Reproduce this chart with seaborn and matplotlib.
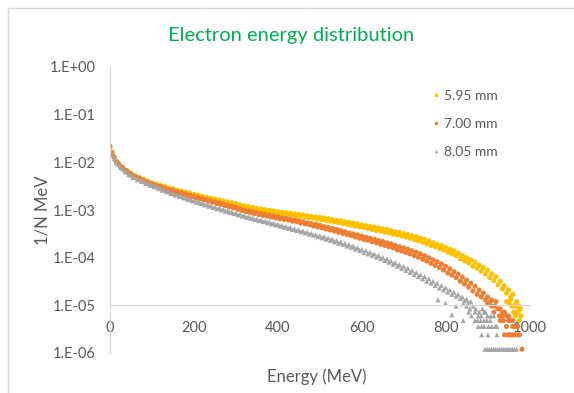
import numpy as np
import pandas as pd
import matplotlib
matplotlib.use("Agg")
import matplotlib.pyplot as plt
import seaborn as sns
from matplotlib.ticker import FixedLocator, FuncFormatter, NullLocator
from matplotlib.patches import Rectangle

# ---------------- data ----------------
series_names = ["5.95 mm", "7.00 mm", "8.05 mm"]
series_colors = ["#FFC000", "#ED7D31", "#A5A5A5"]

energy_grid = [
    0, 5, 10, 15, 20, 25, 30, 35, 40, 45, 50, 55, 60, 65, 70, 75, 80, 85, 90, 95,
    100, 105, 110, 115, 120, 125, 130, 135, 140, 145, 150, 155, 160, 165, 170, 175, 180, 185, 190, 195,
    200, 205, 210, 215, 220, 225, 230, 235, 240, 245, 250, 255, 260, 265, 270, 275, 280, 285, 290, 295,
    300, 305, 310, 315, 320, 325, 330, 335, 340, 345, 350, 355, 360, 365, 370, 375, 380, 385, 390, 395,
    400, 405, 410, 415, 420, 425, 430, 435, 440, 445, 450, 455, 460, 465, 470, 475, 480, 485, 490, 495,
    500, 505, 510, 515, 520, 525, 530, 535, 540, 545, 550, 555, 560, 565, 570, 575, 580, 585, 590, 595,
    600, 605, 610, 615, 620, 625, 630, 635, 640, 645, 650, 655, 660, 665, 670, 675, 680, 685, 690, 695,
    700, 705, 710, 715, 720, 725, 730, 735, 740, 745, 750, 755, 760, 765, 770, 775, 780, 785, 790, 795,
    800, 805, 810, 815, 820, 825, 830, 835, 840, 845, 850, 855, 860, 865, 870, 875, 880, 885, 890, 895,
    900, 905, 910, 915, 920, 925, 930, 935, 940, 945, 950, 955, 960,
]

yellow_values = [
    2.1e-2, 1.65e-2, 1.3e-2, 1.05e-2, 9.6e-3, 8.3e-3, 7.9e-3, 7.0e-3, 6.8e-3, 6.0e-3, 5.9e-3, 5.3e-3, 5.2e-3, 4.8e-3, 4.8e-3, 4.3e-3, 4.4e-3, 4.0e-3, 4.0e-3, 3.65e-3,
    3.7e-3, 3.45e-3, 3.5e-3, 3.2e-3, 3.3e-3, 3.0e-3, 3.1e-3, 2.85e-3, 2.9e-3, 2.7e-3, 2.8e-3, 2.55e-3, 2.6e-3, 2.4e-3, 2.5e-3, 2.3e-3, 2.38e-3, 2.2e-3, 2.28e-3, 2.05e-3,
    2.12e-3, 1.95e-3, 2.05e-3, 1.85e-3, 1.95e-3, 1.78e-3, 1.85e-3, 1.7e-3, 1.78e-3, 1.62e-3, 1.7e-3, 1.55e-3, 1.63e-3, 1.48e-3, 1.56e-3, 1.42e-3, 1.48e-3, 1.36e-3, 1.43e-3, 1.3e-3,
    1.36e-3, 1.24e-3, 1.28e-3, 1.17e-3, 1.23e-3, 1.12e-3, 1.18e-3, 1.08e-3, 1.13e-3, 1.03e-3, 1.08e-3, 9.9e-4, 1.05e-3, 9.6e-4, 1.02e-3, 9.3e-4, 9.9e-4, 9.0e-4, 9.6e-4, 8.7e-4,
    9.3e-4, 8.5e-4, 9.0e-4, 8.2e-4, 8.8e-4, 8.0e-4, 8.5e-4, 7.8e-4, 8.3e-4, 7.5e-4, 8.1e-4, 7.3e-4, 7.9e-4, 7.1e-4, 7.6e-4, 6.9e-4, 7.4e-4, 6.7e-4, 7.2e-4, 6.4e-4,
    7.0e-4, 6.3e-4, 6.8e-4, 6.0e-4, 6.6e-4, 5.8e-4, 6.3e-4, 5.6e-4, 6.1e-4, 5.4e-4, 5.9e-4, 5.2e-4, 5.7e-4, 5.0e-4, 5.5e-4, 4.8e-4, 5.3e-4, 4.6e-4, 5.1e-4, 4.4e-4,
    4.9e-4, 4.3e-4, 4.7e-4, 4.1e-4, 4.5e-4, 3.9e-4, 4.4e-4, 3.7e-4, 4.2e-4, 3.6e-4, 4.0e-4, 3.4e-4, 3.9e-4, 3.3e-4, 3.7e-4, 3.1e-4, 3.5e-4, 3.0e-4, 3.4e-4, 2.85e-4,
    3.2e-4, 2.7e-4, 3.05e-4, 2.55e-4, 2.9e-4, 2.4e-4, 2.75e-4, 2.25e-4, 2.55e-4, 2.1e-4, 2.4e-4, 1.95e-4, 2.25e-4, 1.8e-4, 2.05e-4, 1.7e-4, 1.9e-4, 1.55e-4, 1.8e-4, 1.45e-4,
    1.65e-4, 1.3e-4, 1.5e-4, 1.2e-4, 1.4e-4, 1.1e-4, 1.25e-4, 9.5e-5, 1.1e-4, 8.5e-5, 1.0e-4, 7.8e-5, 9.0e-5, 6.6e-5, 8.0e-5, 6.0e-5, 7.0e-5, 5.2e-5, 6.2e-5, 4.5e-5,
    5.5e-5, 3.8e-5, 4.6e-5, 3.3e-5, 4.0e-5, 2.7e-5, 3.2e-5, 2.2e-5, 2.6e-5, 1.8e-5, 2.1e-5, 1.5e-5, 1.7e-5,
]

orange_values = [
    2.2e-2, 1.55e-2, 1.28e-2, 1.02e-2, 9.4e-3, 8.1e-3, 7.7e-3, 6.8e-3, 6.6e-3, 5.8e-3, 5.7e-3, 5.1e-3, 5.0e-3, 4.6e-3, 4.6e-3, 4.2e-3, 4.2e-3, 3.85e-3, 3.85e-3, 3.5e-3,
    3.55e-3, 3.25e-3, 3.3e-3, 3.05e-3, 3.1e-3, 2.85e-3, 2.9e-3, 2.7e-3, 2.72e-3, 2.52e-3, 2.58e-3, 2.38e-3, 2.43e-3, 2.25e-3, 2.3e-3, 2.12e-3, 2.17e-3, 2.0e-3, 2.05e-3, 1.9e-3,
    1.95e-3, 1.8e-3, 1.85e-3, 1.7e-3, 1.75e-3, 1.62e-3, 1.66e-3, 1.53e-3, 1.58e-3, 1.45e-3, 1.5e-3, 1.37e-3, 1.42e-3, 1.3e-3, 1.35e-3, 1.23e-3, 1.27e-3, 1.16e-3, 1.2e-3, 1.1e-3,
    1.14e-3, 1.03e-3, 1.06e-3, 9.7e-4, 1.0e-3, 9.2e-4, 9.6e-4, 8.8e-4, 9.2e-4, 8.4e-4, 8.8e-4, 8.0e-4, 8.4e-4, 7.7e-4, 8.1e-4, 7.4e-4, 7.8e-4, 7.1e-4, 7.5e-4, 6.8e-4,
    7.2e-4, 6.5e-4, 6.9e-4, 6.3e-4, 6.7e-4, 6.1e-4, 6.4e-4, 5.8e-4, 6.2e-4, 5.6e-4, 5.9e-4, 5.3e-4, 5.7e-4, 5.1e-4, 5.4e-4, 4.9e-4, 5.2e-4, 4.6e-4, 5.0e-4, 4.4e-4,
    4.8e-4, 4.2e-4, 4.5e-4, 4.0e-4, 4.3e-4, 3.8e-4, 4.1e-4, 3.6e-4, 3.9e-4, 3.4e-4, 3.7e-4, 3.2e-4, 3.5e-4, 3.05e-4, 3.3e-4, 2.9e-4, 3.15e-4, 2.7e-4, 3.0e-4, 2.55e-4,
    2.85e-4, 2.4e-4, 2.7e-4, 2.3e-4, 2.55e-4, 2.15e-4, 2.45e-4, 2.05e-4, 2.3e-4, 1.9e-4, 2.2e-4, 1.8e-4, 2.05e-4, 1.7e-4, 1.95e-4, 1.6e-4, 1.8e-4, 1.45e-4, 1.7e-4, 1.38e-4,
    1.6e-4, 1.28e-4, 1.5e-4, 1.2e-4, 1.4e-4, 1.1e-4, 1.3e-4, 1.02e-4, 1.2e-4, 9.3e-5, 1.1e-4, 8.5e-5, 1.0e-4, 7.6e-5, 9.0e-5, 6.9e-5, 8.2e-5, 6.2e-5, 7.4e-5, 5.5e-5,
    6.6e-5, 4.8e-5, 5.8e-5, 4.3e-5, 5.1e-5, 3.8e-5, 4.5e-5, 3.2e-5, 3.9e-5, 2.8e-5, 3.4e-5, 2.4e-5, 2.9e-5, 2.0e-5, 2.5e-5, 1.7e-5, 2.1e-5, 1.5e-5, 1.8e-5, 1.3e-5,
    1.5e-5, 1.15e-5, 1.3e-5,
]

grey_values = [
    1.9e-2, 1.45e-2, 1.2e-2, 9.8e-3, 9.0e-3, 7.8e-3, 7.3e-3, 6.4e-3, 6.2e-3, 5.5e-3, 5.4e-3, 4.8e-3, 4.8e-3, 4.3e-3, 4.35e-3, 3.95e-3, 4.0e-3, 3.6e-3, 3.65e-3, 3.3e-3,
    3.35e-3, 3.05e-3, 3.1e-3, 2.8e-3, 2.85e-3, 2.6e-3, 2.62e-3, 2.4e-3, 2.45e-3, 2.22e-3, 2.27e-3, 2.07e-3, 2.1e-3, 1.93e-3, 1.96e-3, 1.8e-3, 1.82e-3, 1.67e-3, 1.7e-3, 1.56e-3,
    1.6e-3, 1.46e-3, 1.5e-3, 1.37e-3, 1.4e-3, 1.28e-3, 1.32e-3, 1.2e-3, 1.24e-3, 1.13e-3, 1.16e-3, 1.06e-3, 1.09e-3, 1.0e-3, 1.03e-3, 9.4e-4, 9.7e-4, 8.9e-4, 9.1e-4, 8.4e-4,
    8.6e-4, 7.9e-4, 8.1e-4, 7.4e-4, 7.7e-4, 7.0e-4, 7.3e-4, 6.7e-4, 6.9e-4, 6.3e-4, 6.5e-4, 6.0e-4, 6.2e-4, 5.7e-4, 5.9e-4, 5.4e-4, 5.6e-4, 5.1e-4, 5.3e-4, 4.85e-4,
    5.0e-4, 4.6e-4, 4.75e-4, 4.35e-4, 4.5e-4, 4.1e-4, 4.3e-4, 3.9e-4, 4.05e-4, 3.7e-4, 3.85e-4, 3.5e-4, 3.65e-4, 3.3e-4, 3.45e-4, 3.1e-4, 3.25e-4, 2.95e-4, 3.05e-4, 2.75e-4,
    2.9e-4, 2.6e-4, 2.75e-4, 2.45e-4, 2.6e-4, 2.3e-4, 2.45e-4, 2.15e-4, 2.3e-4, 2.0e-4, 2.15e-4, 1.9e-4, 2.0e-4, 1.75e-4, 1.88e-4, 1.65e-4, 1.75e-4, 1.52e-4, 1.62e-4, 1.42e-4,
    1.5e-4, 1.3e-4, 1.4e-4, 1.2e-4, 1.3e-4, 1.12e-4, 1.2e-4, 1.03e-4, 1.1e-4, 9.5e-5, 1.02e-4, 8.7e-5, 9.4e-5, 8.0e-5, 8.6e-5, 7.3e-5, 7.9e-5, 6.6e-5, 7.2e-5, 6.0e-5,
    6.6e-5, 5.4e-5, 6.0e-5, 4.9e-5, 5.4e-5, 4.4e-5, 4.9e-5, 4.0e-5, 4.4e-5, 3.6e-5, 4.0e-5, 3.2e-5, 3.6e-5, 2.9e-5, 3.2e-5, 2.6e-5, 2.9e-5, 2.3e-5, 2.6e-5, 2.1e-5,
    2.35e-5, 1.9e-5, 2.1e-5, 1.7e-5, 1.9e-5, 1.55e-5, 1.7e-5, 1.4e-5, 1.5e-5, 1.25e-5, 1.35e-5, 1.15e-5, 1.2e-5,
]

# low-count tail points (quantized levels)
yellow_tail_energy = [945, 952, 958, 963, 967, 971, 975, 978, 962, 968, 973, 980, 955, 970, 976, 966]
yellow_tail_value = [1.2e-5, 1.08e-5, 9.6e-6, 9.6e-6, 1.08e-5, 9.6e-6, 9.6e-6, 8.4e-6,
                     7.2e-6, 7.2e-6, 7.2e-6, 6.0e-6, 1.32e-5, 1.2e-5, 4.8e-6, 6.0e-6]

orange_tail_energy = [900, 910, 918, 925, 930, 935, 940, 945, 950, 955,
                      960, 965, 970, 975, 940, 948, 953, 957, 962, 968,
                      972, 976, 930, 945, 960, 982, 920, 935, 950, 915,
                      928, 938]
orange_tail_value = [1.08e-5, 9.6e-6, 9.6e-6, 8.4e-6, 8.4e-6, 7.2e-6, 7.2e-6, 6.0e-6, 6.0e-6, 4.8e-6,
                     4.8e-6, 3.6e-6, 3.6e-6, 2.4e-6, 2.4e-6, 2.4e-6, 2.4e-6, 2.4e-6, 2.4e-6, 2.4e-6,
                     3.6e-6, 2.4e-6, 4.8e-6, 3.6e-6, 3.6e-6, 1.2e-6, 1.2e-5, 6.0e-6, 4.8e-6, 7.2e-6,
                     6.0e-6, 4.8e-6]

grey_tail_energy = [782, 800, 815, 825, 842, 850, 858, 865, 872, 880,
                    888, 895, 855, 862, 870, 878, 885, 892, 900, 908,
                    915, 842, 870, 876, 884, 892, 898, 906, 878, 886,
                    892, 902, 910, 918, 922, 886, 901, 922, 894, 899,
                    904, 909, 914, 919, 924, 929, 934, 939, 944, 949,
                    954, 959, 964, 969]
grey_tail_value = [1.3e-5, 1.1e-5, 6.3e-6, 9.6e-6, 1.08e-5, 9.6e-6, 8.4e-6, 9.6e-6, 8.4e-6, 7.2e-6,
                   8.4e-6, 7.2e-6, 7.2e-6, 6.0e-6, 7.2e-6, 6.0e-6, 6.0e-6, 7.2e-6, 6.0e-6, 6.0e-6,
                   6.0e-6, 4.8e-6, 4.8e-6, 4.8e-6, 4.8e-6, 4.8e-6, 4.8e-6, 4.8e-6, 3.6e-6, 3.6e-6,
                   3.6e-6, 3.6e-6, 3.6e-6, 3.6e-6, 3.6e-6, 2.4e-6, 2.4e-6, 2.4e-6, 1.2e-6, 1.2e-6,
                   1.2e-6, 1.2e-6, 1.2e-6, 1.2e-6, 1.2e-6, 1.2e-6, 1.2e-6, 1.2e-6, 1.2e-6, 1.2e-6,
                   1.2e-6, 1.2e-6, 1.2e-6, 1.2e-6]

x_ticks = [0, 200, 400, 600, 800, 1000]
y_ticks = [1e-6, 1e-5, 1e-4, 1e-3, 1e-2, 1e-1, 1e0]

# ---------------- build table ----------------
frames = []
for name, vals, te, tv in [
    (series_names[0], yellow_values, yellow_tail_energy, yellow_tail_value),
    (series_names[1], orange_values, orange_tail_energy, orange_tail_value),
    (series_names[2], grey_values, grey_tail_energy, grey_tail_value),
]:
    e = list(energy_grid[:len(vals)]) + list(te)
    v = list(vals) + list(tv)
    frames.append(pd.DataFrame({"Energy": e, "Value": v, "Series": name}))
df = pd.concat(frames, ignore_index=True)

# ---------------- style ----------------
sns.set_style("white")
plt.rcParams["font.family"] = ["Lato", "DejaVu Sans"]
TXT = "#595959"
AX = "#D9D9D9"

W, H = 574, 393
fig = plt.figure(figsize=(W / 100, H / 100), dpi=100)
ax = fig.add_axes([110 / W, 1 - 353 / H, 419.5 / W, 286 / H])

sns.scatterplot(
    data=df, x="Energy", y="Value", hue="Series", style="Series",
    hue_order=series_names, style_order=series_names,
    palette=series_colors, markers=["o", "o", "^"],
    s=13, linewidth=0, ax=ax,
)

ax.set_yscale("log")
ax.set_xlim(0, 1000)
ax.set_ylim(1e-6, 1)
ax.yaxis.set_major_locator(FixedLocator(y_ticks))
ax.yaxis.set_minor_locator(NullLocator())
ax.yaxis.set_major_formatter(FuncFormatter(lambda v, p: f"1.E{int(round(np.log10(v))):+03d}"))
ax.set_xticks(x_ticks)

for s in ["top", "right"]:
    ax.spines[s].set_visible(False)
for s in ["left", "bottom"]:
    ax.spines[s].set_color(AX)
    ax.spines[s].set_linewidth(0.9)
ax.spines["bottom"].set_position(("data", 1e-5))

ax.tick_params(axis="both", direction="inout", length=6, width=0.9, color=AX,
               labelcolor=TXT, labelsize=10.5)
ax.tick_params(axis="x", pad=8)
ax.tick_params(axis="y", pad=7)

ax.set_xlabel("Energy (MeV)", fontsize=12, color=TXT)
ax.set_ylabel("1/N MeV", fontsize=12, color=TXT)
ax.xaxis.set_label_coords((317 - 110) / 419.5, (353 - 377) / 286)
ax.xaxis.label.set_va("center")
ax.yaxis.set_label_coords((43 - 110) / 419.5, 0.5)
ax.yaxis.label.set_va("center")

fig.text(291.5 / W, 1 - 35 / H, "Electron energy distribution", ha="center", va="center",
         fontsize=14.5, color="#00B050")

sns.move_legend(
    ax, "upper left", bbox_to_anchor=(433 / W, 1 - 90 / H), bbox_transform=fig.transFigure,
    frameon=False, title=None, fontsize=10, labelspacing=1.15, markerscale=0.7,
    handlelength=0.5, handletextpad=0.3, borderpad=0, borderaxespad=0,
)
for t in ax.get_legend().get_texts():
    t.set_color(TXT)

fig.patches.append(Rectangle((8 / W, -0.1), 1.2, 1.1 - 8.5 / H, transform=fig.transFigure,
                             fill=False, edgecolor=AX, linewidth=1))

fig.savefig("out.png", dpi=100)
